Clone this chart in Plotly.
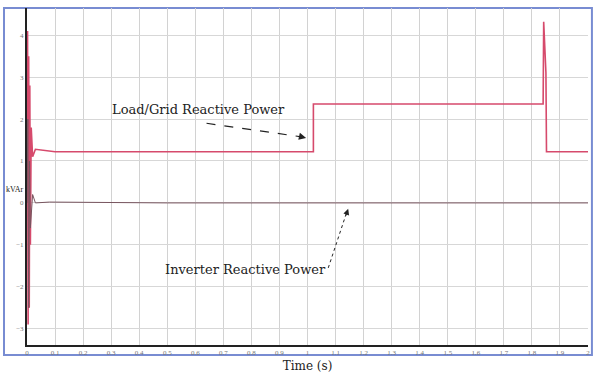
import plotly.graph_objects as go

# Load/Grid reactive power (kVAr) vs time (s)
load_t = [0.0, 0.002, 0.004, 0.006, 0.008, 0.010, 0.012, 0.015, 0.020, 0.030, 0.10, 0.50,
          1.021, 1.021, 1.50, 1.840, 1.842, 1.850, 1.852, 1.90, 2.0]
load_q = [1.22, 4.10, -2.90, 3.50, -2.50, 2.80, -1.00, 1.80, 1.10, 1.28, 1.22, 1.22,
          1.22, 2.36, 2.36, 2.36, 4.32, 3.10, 1.22, 1.22, 1.22]

# Inverter reactive power (kVAr) vs time (s)
inv_t = [0.0, 0.003, 0.006, 0.009, 0.012, 0.020, 0.030, 0.08, 0.50, 1.00, 1.50, 2.0]
inv_q = [0.0, 2.00, -2.50, 1.00, -0.60, 0.20, 0.0, 0.02, 0.0, 0.0, 0.0, 0.0]

x_ticks = [round(0.1 * i, 1) for i in range(21)]
y_ticks = [-3, -2, -1, 0, 1, 2, 3, 4]

serif = "Liberation Serif"
label_font = "DejaVu Serif"

fig = go.Figure()
fig.add_trace(go.Scatter(x=load_t, y=load_q, mode="lines",
                         line=dict(color="rgb(214,74,108)", width=1.6),
                         name="Load/Grid Reactive Power"))
fig.add_trace(go.Scatter(x=inv_t, y=inv_q, mode="lines",
                         line=dict(color="rgb(120,85,95)", width=1.0),
                         name="Inverter Reactive Power"))

# dashed leader lines for the callouts
fig.add_shape(type="line", x0=0.64, y0=1.90, x1=0.985, y1=1.57,
              line=dict(color="#222", width=1.2, dash="dash"))
fig.add_shape(type="line", x0=1.074, y0=-1.55, x1=1.14, y1=-0.22,
              line=dict(color="#222", width=1.0, dash="dot"))

fig.add_annotation(x=0.995, y=1.55, ax=0.975, ay=1.58, axref="x", ayref="y",
                   showarrow=True, arrowhead=2, arrowsize=1.2, arrowwidth=1.2,
                   arrowcolor="#222", text="")
fig.add_annotation(x=1.145, y=-0.14, ax=1.135, ay=-0.34, axref="x", ayref="y",
                   showarrow=True, arrowhead=2, arrowsize=1.2, arrowwidth=1.0,
                   arrowcolor="#222", text="")

fig.add_annotation(x=0.61, y=2.24, text="Load/Grid Reactive Power", showarrow=False,
                   font=dict(family=label_font, size=13, color="#222"))
fig.add_annotation(x=0.78, y=-1.60, text="Inverter Reactive Power", showarrow=False,
                   font=dict(family=label_font, size=13, color="#222"))

# y-axis caption
fig.add_annotation(xref="paper", yref="paper", x=-0.041, y=0.46, xanchor="left",
                   text="kVAr", showarrow=False,
                   font=dict(family=serif, size=8, color="#222"))

# outer blue frame
fig.add_shape(type="rect", xref="paper", yref="paper",
              x0=-0.041, y0=-0.03, x1=1.007, y1=1.0,
              line=dict(color="rgb(120,140,210)", width=2), layer="below")

fig.update_layout(
    width=598, height=379,
    margin=dict(l=27, r=8, t=8, b=34),
    paper_bgcolor="white", plot_bgcolor="white",
    showlegend=False,
    font=dict(family=serif, color="#333"),
    xaxis=dict(range=[0, 2.0], tickvals=x_ticks, ticks="", showgrid=True,
               gridcolor="rgb(210,210,210)", gridwidth=1,
               showline=True, linecolor="#222", linewidth=2,
               tickfont=dict(family=serif, size=7, color="#777"),
               title=dict(text="Time (s)", font=dict(family=label_font, size=12, color="#222"),
                          standoff=5),
               zeroline=False),
    yaxis=dict(range=[-3.39, 4.65], tickvals=y_ticks, ticks="", showgrid=True,
               gridcolor="rgb(215,215,215)", gridwidth=1,
               showline=True, linecolor="#222", linewidth=2,
               tickfont=dict(family=serif, size=7, color="#777"),
               zeroline=False),
)

fig.write_html("out.html")
